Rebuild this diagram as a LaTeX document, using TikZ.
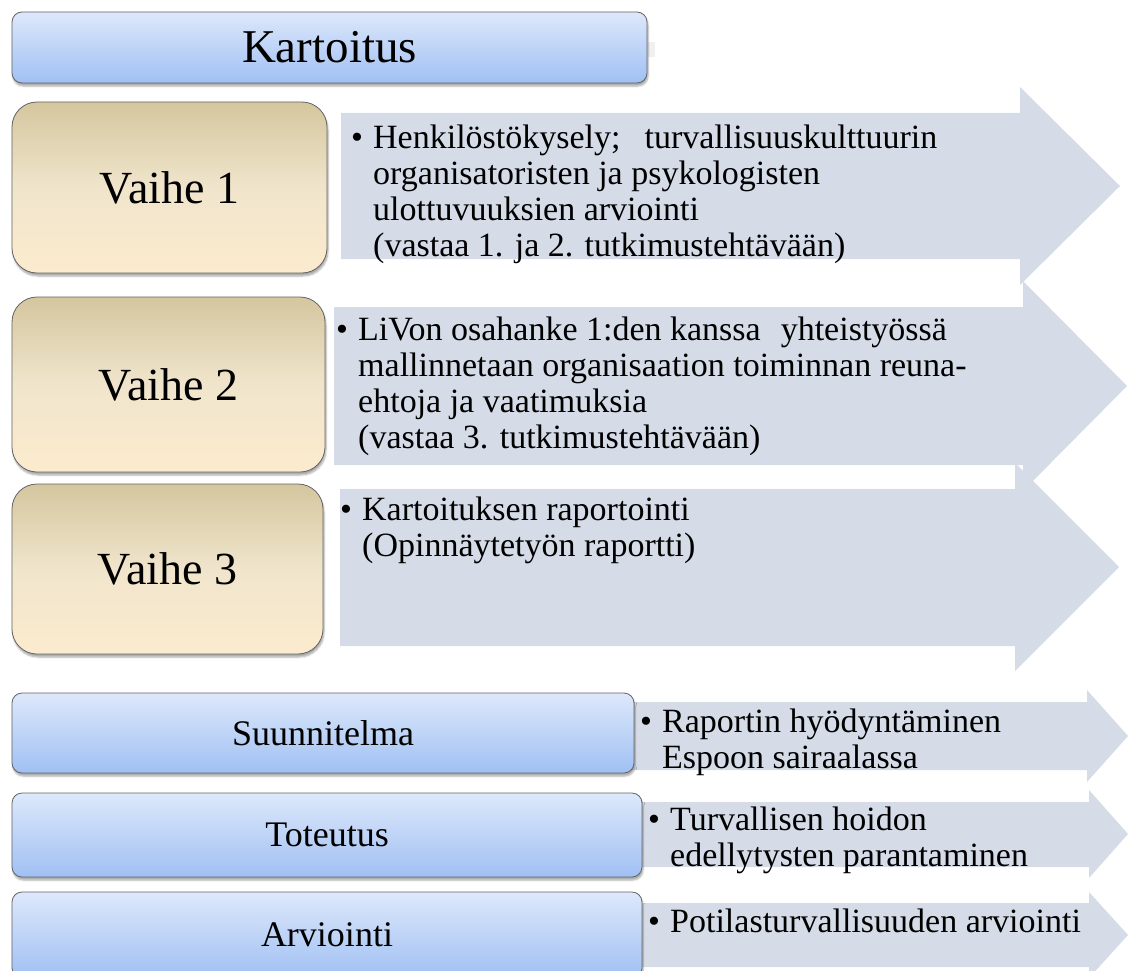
\documentclass[tikz,border=0pt]{standalone}
\usepackage{fontspec}
\setmainfont{Liberation Serif}
\usetikzlibrary{shadows.blur}

\definecolor{bluetop}{RGB}{221,232,251}
\definecolor{bluebot}{RGB}{160,192,243}
\definecolor{tantop}{RGB}{212,198,158}
\definecolor{tanmid}{RGB}{240,229,204}
\definecolor{tanbot}{RGB}{252,235,206}
\definecolor{arrowfill}{RGB}{213,220,232}
\definecolor{edgegray}{RGB}{100,100,100}

\begin{document}
\begin{tikzpicture}[
    x=1pt, y=-1pt,
    font=\fontsize{34}{36}\selectfont
]
\tikzset{
    stagebox/.style = {rectangle, rounded corners=10pt, draw=edgegray, line width=0.8pt,
        top color=bluetop, bottom color=bluebot, inner sep=0pt,
        blur shadow={shadow xshift=1pt, shadow yshift=-3pt, shadow blur steps=5, shadow opacity=35}},
    phasebox/.style = {stagebox, rounded corners=25pt,
        top color=tantop, bottom color=tanbot, middle color=tanmid,
        minimum width=313pt, font=\fontsize{46}{48}\selectfont},
    itemtext/.style = {anchor=base west, inner sep=0pt},
    stagearrow/.style = {fill=arrowfill}
}
\useasboundingbox (0,0) rectangle (1132,971);

% arrows behind the boxes
\fill[stagearrow] (341,113) -- (1020,113) -- (1020,87) -- (1120,186) -- (1020,285) -- (1020,259) -- (341,259) -- cycle;
\fill[stagearrow] (334,307) -- (1023,307) -- (1023,281) -- (1127,386) -- (1023,491) -- (1023,465) -- (334,465) -- cycle;
\fill[stagearrow] (340,489) -- (1015,489) -- (1015,463) -- (1119,567) -- (1015,671) -- (1015,646) -- (340,646) -- cycle;
\fill[stagearrow] (620,702) -- (1087,702) -- (1087,690) -- (1128,736) -- (1087,782) -- (1087,770) -- (620,770) -- cycle;
\fill[stagearrow] (620,802) -- (1089,802) -- (1089,790) -- (1128,834) -- (1089,878) -- (1089,867) -- (620,867) -- cycle;
\fill[stagearrow] (620,903) -- (1089,903) -- (1089,892) -- (1128,935) -- (1089,978) -- (1089,967) -- (620,967) -- cycle;

\fill[gray!12] (648,42) rectangle (655,57);

% boxes
\node[stagebox, minimum width=635pt, minimum height=71pt, font=\fontsize{47}{50}\selectfont] (kartoitus) at (329.5,47.5) {Kartoitus};
\node[phasebox, minimum width=315pt, minimum height=171pt] (vaihe1) at (169.5,187.5) {Vaihe 1};
\node[phasebox, minimum width=313pt, minimum height=175pt] (vaihe2) at (168.5,384.5) {Vaihe 2};
\node[phasebox, minimum width=311pt, minimum height=170pt] (vaihe3) at (167.5,569) {Vaihe 3};
\node[stagebox, minimum width=622pt, minimum height=80pt, font=\fontsize{36}{38}\selectfont] (suunnitelma) at (323,733) {Suunnitelma};
\node[stagebox, minimum width=630pt, minimum height=84pt, font=\fontsize{36}{38}\selectfont] (toteutus) at (327,835) {Toteutus};
\node[stagebox, minimum width=630pt, minimum height=86pt, font=\fontsize{36}{38}\selectfont] (arviointi) at (327,935) {Arviointi};

% texts in the arrows
\node[itemtext] (desc1) at (351,148) {\makebox[22pt][l]{\textbullet}\parbox[t]{700pt}{\raggedright
    Henkilöstökysely;\hspace{24pt}turvallisuuskulttuurin\\
    organisatoristen ja psykologisten\\
    ulottuvuuksien arviointi\\
    (vastaa 1. ja 2. tutkimustehtävään)}};
\node[itemtext] (desc2) at (336,340) {\makebox[22pt][l]{\textbullet}\parbox[t]{700pt}{\raggedright
    LiVon osahanke 1:den kanssa\hspace{20pt}yhteistyössä\\
    mallinnetaan organisaation toiminnan reuna-\\
    ehtoja ja vaatimuksia\\
    (vastaa 3. tutkimustehtävään)}};
\node[itemtext] (desc3) at (340,520) {\makebox[22pt][l]{\textbullet}\parbox[t]{700pt}{\raggedright
    Kartoituksen raportointi\\
    (Opinnäytetyön raportti)}};
\node[itemtext] (desc4) at (640,732) {\makebox[22pt][l]{\textbullet}\parbox[t]{500pt}{\raggedright
    Raportin hyödyntäminen\\
    Espoon sairaalassa}};
\node[itemtext] (desc5) at (648,830) {\makebox[22pt][l]{\textbullet}\parbox[t]{500pt}{\raggedright
    Turvallisen hoidon\\
    edellytysten parantaminen}};
\node[itemtext] (desc6) at (648,932) {\makebox[22pt][l]{\textbullet}Potilasturvallisuuden arviointi};
\end{tikzpicture}
\end{document}
